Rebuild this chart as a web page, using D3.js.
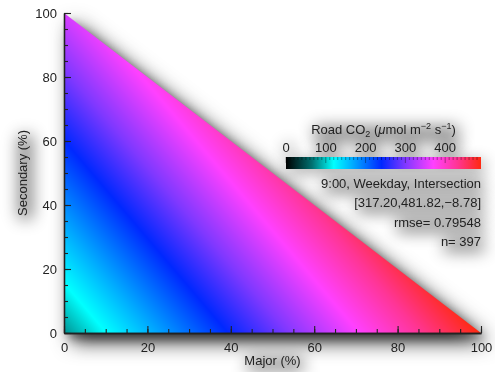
<!DOCTYPE html>
<html>
<head>
<meta charset="utf-8">
<script src="https://cdn.jsdelivr.net/npm/d3@7"></script>
<style>
  body { margin: 0; background: #fff; }
  #chart { position: relative; width: 495px; height: 372px; }
  #chart canvas, #chart svg { position: absolute; left: 0; top: 0; }
  text { font-family: "Liberation Sans", Arial, Helvetica, sans-serif; fill: #222; }
</style>
</head>
<body>
<div id="chart"></div>
<script>
// ---- data ----
var majorTicks = [0, 20, 40, 60, 80, 100];
var secondaryTicks = [0, 20, 40, 60, 80, 100];
var colorbarTicks = [0, 100, 200, 300, 400];
// CO2 estimated at the three corners of the mixing triangle (read from the colours)
var cornerNames = ["Major", "Secondary", "Minor"];
var cornerValues = [490, 347, 78];
var fitCoef = [317.20, 481.82, -8.78];
var caseLabel = "9:00, Weekday, Intersection";
var rmse = 0.79548;
var nObs = 397;
// colour map stops (value -> colour)
var cmapStops = [0, 65, 120, 165, 240, 300, 370, 430, 490];
var cmapColors = ["#000000", "#007070", "#00ffff", "#00b0ff", "#0028ff", "#8038ff", "#ff40ff", "#ff3595", "#ff2a10"];

var W = 495, H = 372;
var plot = { left: 64, right: 481, top: 13, bottom: 333 };

// canvas underneath for the soft shadows
var bg = d3.select("#chart").append("canvas").attr("width", W).attr("height", H).node();
var bctx = bg.getContext("2d");

var svg = d3.select("#chart").append("svg")
    .attr("width", W).attr("height", H);
var defs = svg.append("defs");

var x = d3.scaleLinear().domain([0, 100]).range([plot.left, plot.right]);
var y = d3.scaleLinear().domain([0, 100]).range([plot.bottom, plot.top]);
var color = d3.scaleLinear().domain(cmapStops).range(cmapColors).clamp(true);

function co2(major, secondary) {
  var minor = 100 - major - secondary;
  return (cornerValues[0] * major + cornerValues[1] * secondary + cornerValues[2] * minor) / 100;
}

// ---- triangle field, rendered to a canvas then placed in the svg ----
var pw = Math.round(plot.right - plot.left), ph = Math.round(plot.bottom - plot.top);
var canvas = document.createElement("canvas");
canvas.width = pw; canvas.height = ph;
var ctx = canvas.getContext("2d");
var img = ctx.createImageData(pw, ph);
for (var j = 0; j < ph; j++) {
  for (var i = 0; i < pw; i++) {
    var m = x.invert(plot.left + i + 0.5), s = y.invert(plot.top + j + 0.5);
    var c = d3.rgb(color(co2(m, s)));
    var k = (j * pw + i) * 4;
    img.data[k] = c.r; img.data[k + 1] = c.g; img.data[k + 2] = c.b; img.data[k + 3] = 255;
  }
}
ctx.putImageData(img, 0, 0);

var triPath = "M" + x(0) + "," + y(0) + "L" + x(100) + "," + y(0) + "L" + x(0) + "," + y(100) + "Z";
defs.append("clipPath").attr("id", "tri").append("path").attr("d", triPath);

svg.append("g").attr("clip-path", "url(#tri)")
  .append("image")
    .attr("x", plot.left).attr("y", plot.top)
    .attr("width", pw).attr("height", ph)
    .attr("preserveAspectRatio", "none")
    .attr("href", canvas.toDataURL());

// ---- axes ----
function styleAxis(g) {
  g.selectAll("path.domain").attr("stroke", "#222").attr("stroke-width", 1.3);
  g.selectAll(".tick line").attr("stroke", "#222").attr("stroke-width", 1.1);
  g.selectAll("text").attr("font-size", 13).attr("fill", "#222")
      .style("font-family", "'Liberation Sans', Arial, sans-serif");
}
var axG = svg.append("g");
axG.append("g").attr("transform", "translate(0," + plot.bottom + ")")
    .call(d3.axisBottom(x).tickValues(d3.range(0, 101, 5)).tickSizeInner(-4).tickSizeOuter(0).tickFormat(""))
    .call(styleAxis);
axG.append("g").attr("transform", "translate(0," + plot.bottom + ")")
    .call(d3.axisBottom(x).tickValues(majorTicks).tickSizeInner(-7).tickSizeOuter(0).tickPadding(10))
    .call(styleAxis);
axG.append("g").attr("transform", "translate(" + plot.left + ",0)")
    .call(d3.axisLeft(y).tickValues(d3.range(0, 101, 5)).tickSizeInner(-4).tickSizeOuter(0).tickFormat(""))
    .call(styleAxis);
axG.append("g").attr("transform", "translate(" + plot.left + ",0)")
    .call(d3.axisLeft(y).tickValues(secondaryTicks).tickSizeInner(-7).tickSizeOuter(0).tickPadding(7))
    .call(styleAxis);

var hazy = [];
hazy.push(svg.append("text").attr("x", (plot.left + plot.right) / 2).attr("y", 365)
    .attr("text-anchor", "middle").attr("font-size", 13)
    .text("Major (%)").node());
hazy.push(svg.append("text").attr("transform", "translate(27," + ((plot.top + plot.bottom) / 2) + ") rotate(-90)")
    .attr("text-anchor", "middle").attr("font-size", 13)
    .text("Secondary (%)").node());

// ---- colour bar ----
var cb = { x0: 286, x1: 481, y0: 157, y1: 169 };
var cbx = d3.scaleLinear().domain([0, 490]).range([cb.x0, cb.x1]);
var grad = defs.append("linearGradient").attr("id", "cbgrad")
    .attr("gradientUnits", "userSpaceOnUse")
    .attr("x1", cb.x0).attr("x2", cb.x1).attr("y1", 0).attr("y2", 0);
cmapStops.forEach(function (v, i) {
  grad.append("stop").attr("offset", (cbx(v) - cb.x0) / (cb.x1 - cb.x0)).attr("stop-color", cmapColors[i]);
});
var legG = svg.append("g");
hazy.push(legG.append("rect").attr("x", cb.x0).attr("y", cb.y0)
    .attr("width", cb.x1 - cb.x0).attr("height", cb.y1 - cb.y0)
    .attr("fill", "url(#cbgrad)").node());
legG.append("g").selectAll("line").data(d3.range(0, 481, 10)).join("line")
    .attr("x1", function (d) { return cbx(d); }).attr("x2", function (d) { return cbx(d); })
    .attr("y1", cb.y0).attr("y2", function (d) { return cb.y0 + (d % 100 === 0 ? 6 : 3); })
    .attr("stroke", "#000").attr("stroke-opacity", 0.45).attr("stroke-width", 0.8);
legG.append("g").selectAll("text").data(colorbarTicks).join("text")
    .attr("x", function (d) { return cbx(d); }).attr("y", 151.5)
    .attr("text-anchor", "middle").attr("font-size", 13)
    .text(function (d) { return d; })
    .each(function () { hazy.push(this); });

var title = legG.append("text").attr("x", (cb.x0 + cb.x1) / 2).attr("y", 134)
    .attr("text-anchor", "middle").attr("font-size", 13);
title.append("tspan").text("Road CO");
title.append("tspan").attr("font-size", 9).attr("dy", 3).text("2");
title.append("tspan").attr("dy", -3).text(" (");
title.append("tspan").attr("font-style", "italic").text("\u03bc");
title.append("tspan").text("mol m");
title.append("tspan").attr("font-size", 9).attr("dy", -5).text("\u22122");
title.append("tspan").attr("dy", 5).text(" s");
title.append("tspan").attr("font-size", 9).attr("dy", -5).text("\u22121");
title.append("tspan").attr("dy", 5).text(")");
hazy.push(title.node());

var fmt = d3.format(".2f");
var infoLines = [
  caseLabel,
  "[" + fitCoef.map(fmt).join(",") + "]",
  "rmse= " + rmse,
  "n= " + nObs
];
legG.append("g").selectAll("text").data(infoLines).join("text")
    .attr("x", 481).attr("y", function (d, i) { return 187.5 + i * 19.5; })
    .attr("text-anchor", "end").attr("font-size", 13)
    .text(function (d) { return d; })
    .each(function () { hazy.push(this); });

// ---- shadows on the background canvas (shape drawn off-canvas, only its shadow lands) ----
var FAR = 3000;
function triShadow(alpha, blur, dx, dy) {
  bctx.save();
  bctx.shadowColor = "rgba(0,0,0," + alpha + ")";
  bctx.shadowBlur = blur;
  bctx.shadowOffsetX = FAR + dx;
  bctx.shadowOffsetY = dy;
  bctx.beginPath();
  bctx.moveTo(x(0) - FAR, y(0));
  bctx.lineTo(x(100) - FAR, y(0));
  bctx.lineTo(x(0) - FAR, y(100));
  bctx.closePath();
  bctx.fill();
  bctx.restore();
}
triShadow(0.8, 20, 8, 9);
triShadow(0.35, 10, 5, 6);

var origin = svg.node().getBoundingClientRect();
bctx.save();
bctx.shadowColor = "rgba(0,0,0,0.45)";
bctx.shadowBlur = 16;
bctx.shadowOffsetX = FAR + 3;
bctx.shadowOffsetY = 4;
hazy.forEach(function (el) {
  var r = el.getBoundingClientRect();
  bctx.fillRect(r.left - origin.left - FAR, r.top - origin.top + 1, r.width, r.height - 2);
});
bctx.restore();
</script>
</body>
</html>
